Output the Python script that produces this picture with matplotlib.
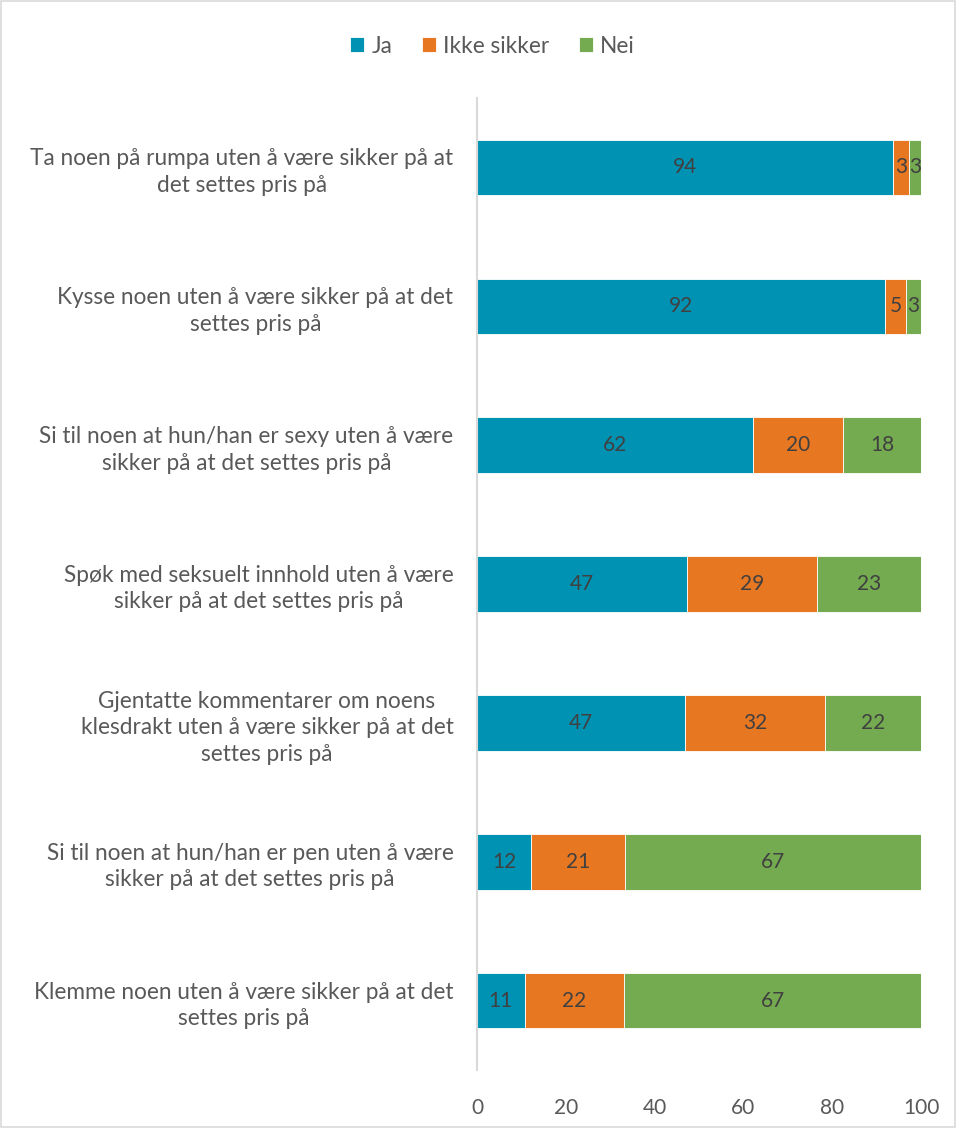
import numpy as np
import matplotlib
matplotlib.use("Agg")
import matplotlib.pyplot as plt
from matplotlib.patches import Rectangle

plt.rcParams['font.family'] = ['Lato', 'DejaVu Sans']

categories = [
    "Ta noen på rumpa uten å være sikker på at\ndet settes pris på",
    "Kysse noen uten å være sikker på at det\nsettes pris på",
    "Si til noen at hun/han er sexy uten å være\nsikker på at det settes pris på",
    "Spøk med seksuelt innhold uten å være\nsikker på at det settes pris på",
    "Gjentatte kommentarer om noens\nklesdrakt uten å være sikker på at det\nsettes pris på",
    "Si til noen at hun/han er pen uten å være\nsikker på at det settes pris på",
    "Klemme noen uten å være sikker på at det\nsettes pris på",
]
ja = [93.8, 91.9, 62.2, 47.3, 46.8, 12.1, 10.7]
ikke_sikker = [3.4, 4.8, 20.3, 29.3, 31.6, 21.3, 22.4]
nei = [2.8, 3.3, 17.5, 23.4, 21.6, 66.6, 66.9]
ja_lbl = [94, 92, 62, 47, 47, 12, 11]
ikke_lbl = [3, 5, 20, 29, 32, 21, 22]
nei_lbl = [3, 3, 18, 23, 22, 67, 67]

series = [
    ("Ja", ja, ja_lbl, "#0092B3"),
    ("Ikke sikker", ikke_sikker, ikke_lbl, "#E87722"),
    ("Nei", nei, nei_lbl, "#74AA50"),
]

fig = plt.figure(figsize=(9.56, 11.28), dpi=100)
ax = fig.add_axes([0.499, 0.0514, 0.4644, 0.8617])

y = np.arange(len(categories))
left = np.zeros(len(categories))
handles = []
for name, vals, lbls, color in series:
    vals = np.array(vals)
    bars = ax.barh(y, vals, left=left, height=0.4, color=color,
                   edgecolor="white", linewidth=0.6, label=name)
    handles.append(bars)
    for yi, l, v, t in zip(y, left, vals, lbls):
        ax.text(l + v / 2, yi, str(t), ha='center', va='center',
                fontsize=15, color="#404040")
    left = left + vals

ax.set_xlim(0, 100)
ax.set_ylim(len(categories) - 0.5, -0.5)
ax.set_xticks([0, 20, 40, 60, 80, 100])
ax.set_yticks(y)
ax.set_yticklabels(categories, multialignment='center', linespacing=1.32)
ax.tick_params(axis='both', length=0, colors="#595959")
ax.tick_params(axis='y', pad=17, labelsize=16.3)
ax.tick_params(axis='x', pad=20, labelsize=15)
for s in ['top', 'right', 'bottom']:
    ax.spines[s].set_visible(False)
ax.spines['left'].set_color("#D9D9D9")
ax.spines['left'].set_linewidth(1.5)

fig.legend(handles=handles, loc='center', bbox_to_anchor=(0.515, 0.959), ncol=3,
           frameon=False, fontsize=16.3, handlelength=0.65, handleheight=0.65,
           handletextpad=0.3, columnspacing=1.3, labelcolor="#595959")

fig.add_artist(Rectangle((0.001, 0.001), 0.998, 0.998, transform=fig.transFigure,
                         fill=False, edgecolor="#D9D9D9", linewidth=1.2))

fig.savefig("out.png", dpi=100)
